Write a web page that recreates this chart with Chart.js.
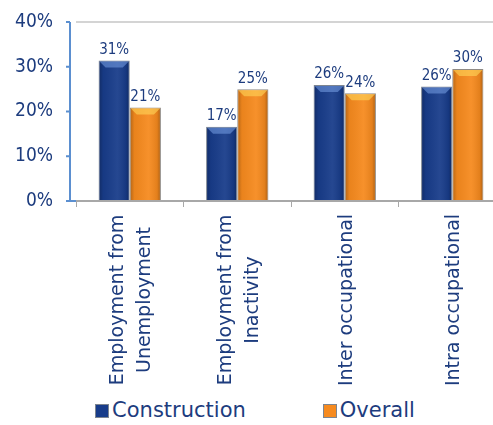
<!doctype html>
<html lang="en">
  <head>
    <meta charset="utf-8">
    <script src="https://cdn.jsdelivr.net/npm/chart.js@4/dist/chart.umd.min.js"></script>
    <title>Transitions</title>
    <style>
      body { margin: 0; overflow: hidden; background: #fff; }
      canvas { display: block; }
      #leyenda { width: 510px; height: 30px; display: flex; justify-content: center; gap: 77px;
                 font: 21px 'DejaVu Sans', sans-serif; color: #1d3c7e; line-height: 30px; }
      #leyenda span.caja { display: inline-block; width: 14px; height: 14px; margin-right: 3px;
                           vertical-align: -1px; box-sizing: border-box; border: 1px solid #7d8590; }
    </style>
  </head>
  <body>
    <canvas id="grafica" width="510" height="395"></canvas>
    <div id="leyenda"></div>

  <script>

    // data
    let categorias = [["Employment from","Unemployment"],["Employment from","Inactivity"],"Inter occupational","Intra occupational"];
    let construction = [31.4, 16.6, 25.9, 25.6];
    let overall = [20.9, 25.0, 24.1, 29.5];
    let yTicks = [0, 10, 20, 30, 40];

    let azul = "#183c8a";
    let naranja = "#f68a1e";
    let texto = "#1d3c7e";
    let ejeAzul = "#5b8fd0";
    let fuenteY = "'DejaVu Sans Condensed', 'DejaVu Sans', sans-serif";
    let fuenteX = "'DejaVu Sans', sans-serif";

    // eje y azul un poco a la izquierda del area de barras
    const ejeY = {
      id: "ejeY",
      beforeDatasetsDraw(chart){
        let ctx = chart.ctx;
        let sy = chart.scales.y;
        let x = chart.chartArea.left - 6;
        ctx.save();
        ctx.strokeStyle = ejeAzul;
        ctx.lineWidth = 2;
        ctx.beginPath();
        ctx.moveTo(x, chart.chartArea.top);
        ctx.lineTo(x, chart.chartArea.bottom + 1);
        yTicks.forEach(v => {
          let y = sy.getPixelForValue(v);
          ctx.moveTo(x - 4, y);
          ctx.lineTo(v === 0 ? chart.chartArea.left : x, y);
        });
        ctx.stroke();
        ctx.restore();
      }
    };

    // relieve de las barras + etiquetas encima
    const etiquetas = {
      id: "etiquetas",
      afterDatasetsDraw(chart){
        let ctx = chart.ctx;
        ctx.save();
        chart.data.datasets.forEach((ds, i) => {
          chart.getDatasetMeta(i).data.forEach(bar => {
            let w = bar.width, x0 = bar.x - w / 2, h = bar.base - bar.y;
            let g = ctx.createLinearGradient(x0, 0, x0 + w, 0);
            g.addColorStop(0, "rgba(0,0,0,0.28)");
            g.addColorStop(0.15, "rgba(0,0,0,0.05)");
            g.addColorStop(0.6, "rgba(255,255,255,0.06)");
            g.addColorStop(0.88, "rgba(0,0,0,0.08)");
            g.addColorStop(1, "rgba(0,0,0,0.32)");
            ctx.fillStyle = g;
            ctx.fillRect(x0 + 1, bar.y + 1, w - 2, h - 1);
            // tapa superior mas clara
            ctx.fillStyle = i === 0 ? "rgba(120,160,230,0.55)" : "rgba(255,215,90,0.6)";
            ctx.beginPath();
            ctx.moveTo(x0 + 1, bar.y + 1);
            ctx.lineTo(x0 + w - 1, bar.y + 1);
            ctx.lineTo(x0 + w - 7, bar.y + 7);
            ctx.lineTo(x0 + 7, bar.y + 7);
            ctx.closePath();
            ctx.fill();
          });
        });
        ctx.font = "15px " + fuenteY;
        ctx.fillStyle = texto;
        ctx.textAlign = "center";
        ctx.textBaseline = "bottom";
        chart.data.datasets.forEach((ds, i) => {
          chart.getDatasetMeta(i).data.forEach((bar, j) => {
            ctx.fillText(Math.round(ds.data[j]) + "%", bar.x, bar.y - 3);
          });
        });
        ctx.restore();
      }
    };

    // etiquetas del eje x, giradas y centradas
    const ejeX = {
      id: "ejeX",
      afterDraw(chart){
        let ctx = chart.ctx;
        let sx = chart.scales.x;
        ctx.save();
        ctx.font = "19px " + fuenteX;
        ctx.fillStyle = texto;
        ctx.textAlign = "center";
        ctx.textBaseline = "middle";
        categorias.forEach((c, i) => {
          let lineas = Array.isArray(c) ? c : [c];
          ctx.save();
          ctx.translate(sx.getPixelForValue(i) + 2, 300);
          ctx.rotate(-Math.PI / 2);
          lineas.forEach((l, k) => ctx.fillText(l, 0, (k - (lineas.length - 1) / 2) * 27));
          ctx.restore();
        });
        ctx.restore();
      }
    };

    let canvas = document.getElementById("grafica").getContext("2d");

    var chart = new Chart(canvas, {
      type: "bar",
      data: {
        labels: categorias,
        datasets: [
          { label: "Construction", data: construction, backgroundColor: azul, borderColor: "#7d8590", borderWidth: 1 },
          { label: "Overall", data: overall, backgroundColor: naranja, borderColor: "#8f8a85", borderWidth: 1 }
        ]
      },
      options: {
        responsive: false,
        animation: false,
        categoryPercentage: 0.58,
        barPercentage: 1.0,
        layout: { padding: { top: 22, right: 4, left: 0, bottom: 0 } },
        plugins: {
          legend: { display: false },
          tooltip: { enabled: false }
        },
        scales: {
          x: {
            afterFit(scale){ scale.height = 194; },
            border: { color: "#a8a8a8", width: 2 },
            grid: { offset: true, drawOnChartArea: false, color: "#a8a8a8", tickLength: 6 },
            ticks: { display: false }
          },
          y: {
            min: 0,
            max: 40,
            afterFit(scale){ scale.width = 76; scale.paddingTop = 0; scale.paddingBottom = 0; },
            afterBuildTicks(scale){ scale.ticks = yTicks.map(v => ({ value: v })); },
            border: { display: false },
            grid: {
              color: ctx => ctx.tick && ctx.tick.value === 40 ? "#d4d4d4" : "rgba(0,0,0,0)",
              drawTicks: false,
              lineWidth: 2
            },
            ticks: {
              color: texto,
              font: { family: fuenteY, size: 19 },
              padding: 23,
              callback: v => v + "%"
            }
          }
        }
      },
      plugins: [ejeY, etiquetas, ejeX]
    });

    // leyenda
    let leyenda = document.getElementById("leyenda");
    chart.data.datasets.forEach(ds => {
      let item = document.createElement("div");
      let caja = document.createElement("span");
      caja.className = "caja";
      caja.style.background = ds.backgroundColor;
      item.append(caja, ds.label);
      leyenda.append(item);
    });

  </script>
  </body>
</html>
